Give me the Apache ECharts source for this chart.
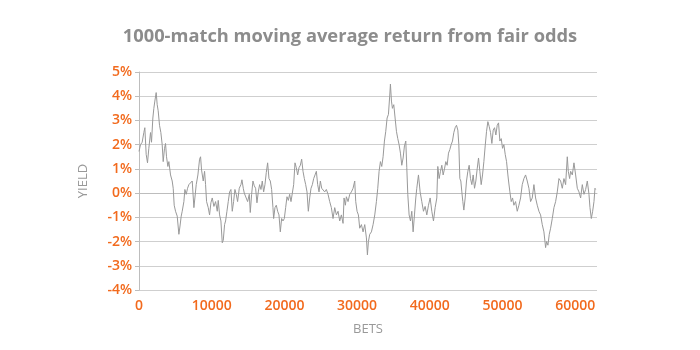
<!DOCTYPE html>
<html>
<head>
<meta charset="utf-8">
<title>1000-match moving average return from fair odds</title>
<script src="https://cdn.jsdelivr.net/npm/echarts@6/dist/echarts.min.js"></script>
<style>
  html, body { margin: 0; padding: 0; background: #ffffff; }
  #chart { width: 700px; height: 350px; }
</style>
</head>
<body>
<div id="chart"></div>
<script>
// Bet number (x) at which each moving-average reading was taken
const bets = [
  0, 207, 436, 666, 803, 987, 1170, 1354, 1584, 1721,
  1905, 2043, 2180, 2364, 2502, 2639, 2823, 3006, 3190, 3328,
  3511, 3649, 3787, 3970, 4108, 4338, 4567, 4705, 4842, 5026,
  5256, 5485, 5623, 5806, 5944, 6174, 6311, 6495, 6678, 6862,
  7092, 7321, 7551, 7688, 7872, 8101, 8331, 8469, 8606, 8836,
  9019, 9157, 9295, 9524, 9708, 9891, 10075, 10305, 10534, 10764,
  10901, 11085, 11268, 11452, 11590, 11773, 11911, 12095, 12278, 12462,
  12645,
  12829, 13012, 13196, 13379, 13563, 13793, 14022, 14160, 14343, 14481,
  14711, 14940, 15170, 15307, 15491, 15674, 15858, 16042, 16225, 16409,
  16592, 16776, 16960, 17143, 17327, 17510, 17694, 17878, 18061, 18245,
  18428, 18520, 18704, 18887, 19071, 19255, 19438, 19622, 19806, 19989,
  20173, 20356, 20540, 20723, 20907, 21091, 21274, 21458, 21641, 21825,
  22009, 22192, 22376, 22559, 22743, 22927, 23110, 23294, 23477, 23661,
  23845, 24028, 24212, 24395, 24579, 24763, 24946, 25130, 25313,
  25544, 25773, 26003, 26232, 26462, 26691, 26921, 27150, 27380, 27609,
  27839, 28068, 28206, 28389, 28527, 28757, 28986, 29216, 29445, 29675,
  29812, 29996, 30179, 30363, 30593, 30822, 31052, 31281, 31419, 31556,
  31740, 31970, 32199, 32429, 32658, 32842, 33025, 33209, 33392, 33576,
  33760, 33943, 34127, 34310, 34494, 34586, 34724, 34861, 35045, 35228,
  35412, 35596, 35779, 35963, 36146, 36330, 36514, 36697, 36835, 36973,
  37156, 37340, 37524, 37707, 37891, 38074,
  38212, 38441, 38671, 38900, 39130, 39359, 39589, 39818, 40048, 40277,
  40507, 40736, 40966, 41103, 41287, 41470, 41654, 41838, 42021, 42205,
  42388, 42572, 42756, 42939, 43123, 43306, 43490, 43674, 43857, 43995,
  44133, 44270, 44408, 44546, 44683, 44867, 45051, 45234, 45418, 45601,
  45785, 45969, 46152, 46336, 46519, 46703, 46887, 47070, 47254, 47437,
  47621, 47805, 47988, 48172, 48355, 48539, 48723, 48906, 49090, 49273,
  49457, 49641, 49824, 50008, 50191, 50375, 50559, 50742,
  50835, 51018, 51202, 51385, 51569, 51799, 52028, 52258, 52487, 52717,
  52946, 53176, 53405, 53635, 53864, 54094, 54323, 54553, 54782, 55012,
  55241, 55471, 55700, 55930, 56067, 56251, 56434, 56618, 56848, 57077,
  57307, 57536, 57766, 57995, 58225, 58454, 58684, 58913, 59051, 59234,
  59372, 59602, 59831, 60061, 60290, 60520, 60749, 60979, 61208, 61438,
  61667, 61897, 62034, 62218, 62402, 62585, 62723, 62815
];

// Moving-average yield (%) at each of those bets
const yieldPct = [
  1.72, 2.0, 2.1, 2.5, 2.7, 1.6, 1.25, 1.85, 2.5, 2.1,
  3.1, 3.5, 3.8, 4.15, 3.65, 3.4, 2.8, 2.5, 2.0, 1.3,
  1.85, 2.05, 1.5, 1.1, 1.3, 0.75, 0.5, 0.2, -0.5, -0.75,
  -0.95, -1.7, -1.4, -0.95, -0.75, -0.35, 0.15, -0.05, 0.2, 0.35,
  0.4, 0.5, -0.6, -0.2, 0.35, 0.75, 1.4, 1.5, 0.95, 0.5,
  0.9, 0.35, -0.35, -0.6, -0.9, -0.4, -0.2, -0.55, -0.35, -0.75,
  -0.3, -0.9, -1.15, -2.05, -1.95, -1.3, -1.15, -0.75, -0.35, 0.05,
  0.15,
  -0.75, -0.35, 0.15, -0.05, -0.35, 0.2, 0.35, 0.55, 0.2, 0.0,
  0.05, -0.35, -0.05, -0.8, -0.05, 0.5, 0.3, 0.2, -0.4, 0.05,
  0.35, 0.15, 0.5, 0.05, 0.35, 0.85, 1.25, 0.6, 0.5, 0.15,
  -0.6, -1.05, -0.6, -0.5, -0.75, -0.9, -1.6, -1.05, -1.15, -1.05,
  -0.6, -0.15, -0.3, -0.05, -0.35, 0.0, 0.35, 1.25, 1.05, 0.75,
  1.05, 1.15, 1.4, 0.9, 0.6, 0.35, 0.05, -0.75, -0.2, 0.2,
  0.35, 0.6, 0.75, 0.9, 0.35, 0.05, 0.5, 0.2, 0.15,
  0.05, 0.15, -0.05, -0.35, -0.6, -1.05, -0.6, -0.9, -0.75, -1.15,
  -0.9, -1.25, -0.2, -0.5, -0.15, -0.35, -0.05, 0.05, 0.2, 0.5,
  -0.35, -0.75, -0.9, -1.45, -1.3, -1.6, -1.3, -1.85, -2.55, -2.0,
  -1.7, -1.6, -1.3, -0.9, -0.35, 0.2, 0.9, 1.3, 1.1, 1.5,
  2.15, 2.55, 3.1, 3.25, 4.05, 4.5, 3.8, 3.5, 3.65, 3.1,
  2.55, 2.25, 2.0, 1.65, 1.15, 1.45, 1.95, 2.15, 1.05, -0.05,
  -0.9, -1.15, -0.75, -1.6, -0.9, -0.2,
  0.2, 0.75, 0.05, -0.35, -0.75, -0.55, -0.9, -0.5, -0.2, -0.75,
  -1.15, -0.6, -0.2, 1.1, 0.6, 0.9, 1.15, 0.75, 1.0, 1.3,
  1.15, 1.65, 1.8, 2.0, 2.15, 2.5, 2.7, 2.8, 2.6, 2.0,
  0.6, 0.5, 0.05, -0.35, -0.7, -0.2, 0.5, 0.9, 1.15, 0.6,
  0.35, 0.75, 0.2, 0.5, 1.0, 1.45, 0.9, 0.35, 0.75, 1.3,
  1.95, 2.55, 2.95, 2.75, 2.5, 2.05, 2.6, 2.7, 2.4, 2.8,
  2.9, 2.15, 2.25, 1.85, 2.0, 1.6, 1.3, 0.75,
  0.5, 0.05, -0.35, -0.2, -0.5, -0.35, -0.75, -0.5, -0.2, 0.35,
  0.6, 0.75, 0.5, 0.2, -0.35, -0.2, 0.35, -0.2, -0.5, -0.75,
  -0.9, -1.3, -1.6, -2.25, -2.0, -2.15, -1.7, -1.45, -1.05, -0.6,
  -0.35, 0.05, 0.6, 0.5, 0.2, 0.6, 0.35, 1.5, 0.9, 0.6,
  0.9, 0.75, 1.25, 0.75, 0.2, 0.05, -0.2, 0.35, -0.05, 0.15,
  0.5, -0.05, -0.6, -1.05, -0.75, -0.35, 0.2, 0.15
];

// Axis ranges and label steps
const yTicks = { min: -4, max: 5, step: 1 };
const xTicks = { min: 0, max: 63000, step: 10000 };

const ORANGE = '#f26a1d';
const GREY_TEXT = '#8c8c8c';

const points = bets.map((b, i) => [b, yieldPct[i]]);

const chart = echarts.init(document.getElementById('chart'), null, { renderer: 'canvas' });

chart.setOption({
  backgroundColor: '#ffffff',
  animation: false,
  title: {
    text: '1000-match moving average return from fair odds',
    left: 'center',
    top: 23,
    textStyle: {
      fontFamily: 'Open Sans',
      fontWeight: 700,
      fontSize: 18.3,
      color: GREY_TEXT
    }
  },
  grid: { left: 139, right: 103, top: 72, bottom: 60 },
  xAxis: {
    type: 'value',
    min: xTicks.min,
    max: xTicks.max,
    interval: xTicks.step,
    name: 'BETS',
    nameLocation: 'middle',
    nameGap: 33,
    nameTextStyle: { fontFamily: 'Open Sans', fontSize: 13, color: '#999999' },
    axisLine: { show: true, lineStyle: { color: '#bdbdbd', width: 1 } },
    axisTick: { show: false },
    splitLine: { show: false },
    axisLabel: {
      margin: 9,
      fontFamily: 'Open Sans',
      fontWeight: 600,
      fontSize: 14,
      color: ORANGE,
      formatter: v => (v % xTicks.step === 0 ? String(v) : '')
    }
  },
  yAxis: {
    type: 'value',
    min: yTicks.min,
    max: yTicks.max,
    interval: yTicks.step,
    name: 'YIELD',
    nameLocation: 'middle',
    nameGap: 49,
    nameTextStyle: { fontFamily: 'Open Sans', fontSize: 13, color: '#999999' },
    axisLine: { show: true, lineStyle: { color: '#bdbdbd', width: 1 } },
    axisTick: { show: true, length: 4, lineStyle: { color: '#bdbdbd' } },
    splitLine: { show: true, lineStyle: { color: '#cfcfcf', width: 1 } },
    axisLabel: {
      margin: 7,
      fontFamily: 'Open Sans',
      fontWeight: 600,
      fontSize: 14,
      color: ORANGE,
      formatter: '{value}%'
    }
  },
  series: [{
    type: 'line',
    data: points,
    showSymbol: false,
    symbol: 'none',
    smooth: false,
    lineStyle: { color: '#999999', width: 1 }
  }]
});
</script>
</body>
</html>
